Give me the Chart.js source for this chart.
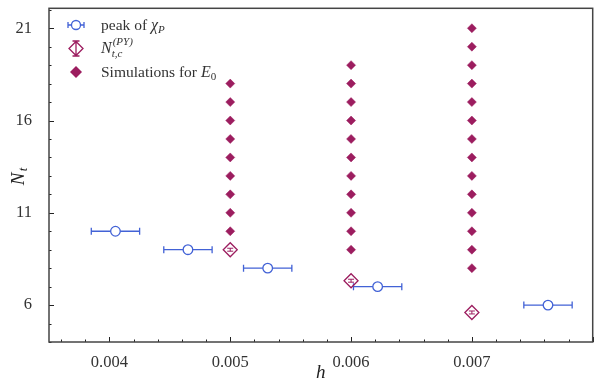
<!DOCTYPE html>
<html>
<head>
<meta charset="utf-8">
<script src="https://cdn.jsdelivr.net/npm/chart.js@4.4.1/dist/chart.umd.min.js"></script>
<style>
  body { margin: 0; background: #fff; }
  #wrap { width: 601px; height: 387px; }
</style>
</head>
<body>
<div id="wrap"><canvas id="myChart"></canvas></div>
<script>
// peak of chi_P (with horizontal error)
const peakH = [0.00405, 0.00465, 0.00531, 0.00622, 0.00763];
const peakNt = [10, 9, 8, 7, 6];
const peakHErr = [0.0002, 0.0002, 0.0002, 0.0002, 0.0002];

// N_t,c^(PY) (with vertical error)
const pyH = [0.005, 0.006, 0.007];
const pyNt = [9, 7.32, 5.6];
const pyNtErr = [0.08, 0.08, 0.08];

// Simulations for E_0
const simH = [0.005, 0.006, 0.007];
const simNt005 = [10, 11, 12, 13, 14, 15, 16, 17, 18];
const simNt006 = [9, 10, 11, 12, 13, 14, 15, 16, 17, 18, 19];
const simNt007 = [8, 9, 10, 11, 12, 13, 14, 15, 16, 17, 18, 19, 20, 21];

const xTicks = [0.004, 0.005, 0.006, 0.007];
const yTicks = [6, 11, 16, 21];

const blue = '#4262d6';
const mag = '#9c1d5f';
const serif = '"Liberation Serif", "DejaVu Serif", serif';

const simPts = [];
[simNt005, simNt006, simNt007].forEach(function(list, i) {
    list.forEach(function(n) { simPts.push({x: simH[i], y: n}); });
});

// error bars, inward ticks, frame, axis titles, legend
const extras = {
    id: 'extras',
    beforeDatasetsDraw(chart) {
        const ctx = chart.ctx, xs = chart.scales.x, ys = chart.scales.y;
        ctx.save();
        ctx.lineWidth = 1.3;
        ctx.strokeStyle = blue;
        peakH.forEach(function(h, i) {
            const y = ys.getPixelForValue(peakNt[i]);
            const x0 = xs.getPixelForValue(h - peakHErr[i]);
            const x1 = xs.getPixelForValue(h + peakHErr[i]);
            ctx.beginPath();
            ctx.moveTo(x0, y); ctx.lineTo(x1, y);
            ctx.moveTo(x0, y - 3.5); ctx.lineTo(x0, y + 3.5);
            ctx.moveTo(x1, y - 3.5); ctx.lineTo(x1, y + 3.5);
            ctx.stroke();
        });
        ctx.strokeStyle = mag;
        ctx.lineWidth = 1;
        pyH.forEach(function(h, i) {
            const x = xs.getPixelForValue(h);
            const y0 = ys.getPixelForValue(pyNt[i] - pyNtErr[i]);
            const y1 = ys.getPixelForValue(pyNt[i] + pyNtErr[i]);
            ctx.beginPath();
            ctx.moveTo(x, y0); ctx.lineTo(x, y1);
            ctx.moveTo(x - 3, y0); ctx.lineTo(x + 3, y0);
            ctx.moveTo(x - 3, y1); ctx.lineTo(x + 3, y1);
            ctx.stroke();
        });
        ctx.restore();
    },
    afterDraw(chart) {
        const ctx = chart.ctx, a = chart.chartArea, xs = chart.scales.x, ys = chart.scales.y;
        ctx.save();
        // ticks (inward)
        ctx.strokeStyle = '#222';
        ctx.lineWidth = 1;
        ctx.beginPath();
        for (let k = 18; k <= 40; k++) {
            const v = k * 0.0002;
            if (v < xs.min || v > xs.max) continue;
            const x = Math.round(xs.getPixelForValue(v)) + 0.5;
            const len = (k % 5 === 0) ? 5 : 2.5;
            ctx.moveTo(x, a.bottom); ctx.lineTo(x, a.bottom - len);
        }
        for (let v = 4; v <= 22; v++) {
            const y = Math.round(ys.getPixelForValue(v)) + 0.5;
            const len = ((v - 1) % 5 === 0) ? 5 : 2.5;
            ctx.moveTo(a.left, y); ctx.lineTo(a.left + len, y);
        }
        ctx.stroke();
        // frame
        ctx.strokeStyle = '#444';
        ctx.lineWidth = 1.5;
        ctx.strokeRect(a.left, a.top, a.right - a.left, a.bottom - a.top);

        // axis titles
        ctx.fillStyle = '#222';
        ctx.textBaseline = 'alphabetic';
        ctx.font = 'italic 19px ' + serif;
        ctx.textAlign = 'center';
        ctx.fillText('h', (a.left + a.right) / 2, 378);
        ctx.save();
        ctx.translate(24, (a.top + a.bottom) / 2);
        ctx.rotate(-Math.PI / 2);
        ctx.textAlign = 'left';
        ctx.fillText('N', -10, 0);
        ctx.font = 'italic 13px ' + serif;
        ctx.fillText('t', 4, 3);
        ctx.restore();

        // legend
        const mx = 76, tx = 101;
        ctx.lineWidth = 1.3;
        // row 1: circle with h-bar
        ctx.strokeStyle = blue;
        ctx.beginPath();
        ctx.moveTo(68, 25); ctx.lineTo(84, 25);
        ctx.moveTo(68, 22); ctx.lineTo(68, 28);
        ctx.moveTo(84, 22); ctx.lineTo(84, 28);
        ctx.stroke();
        ctx.fillStyle = '#fff';
        ctx.beginPath(); ctx.arc(mx, 25, 4.5, 0, Math.PI * 2); ctx.fill(); ctx.stroke();
        // row 2: hollow diamond with v-bar
        ctx.strokeStyle = mag;
        ctx.beginPath();
        ctx.moveTo(mx, 41); ctx.lineTo(mx, 56);
        ctx.moveTo(mx - 3.5, 41); ctx.lineTo(mx + 3.5, 41);
        ctx.moveTo(mx - 3.5, 56); ctx.lineTo(mx + 3.5, 56);
        ctx.moveTo(mx, 41.5); ctx.lineTo(mx + 7, 48.5); ctx.lineTo(mx, 55.5); ctx.lineTo(mx - 7, 48.5); ctx.closePath();
        ctx.stroke();
        // row 3: filled diamond
        ctx.fillStyle = mag;
        ctx.beginPath();
        ctx.moveTo(mx, 66); ctx.lineTo(mx + 6, 72); ctx.lineTo(mx, 78); ctx.lineTo(mx - 6, 72); ctx.closePath();
        ctx.fill();

        ctx.fillStyle = '#333';
        ctx.textAlign = 'left';
        ctx.font = '15.5px ' + serif;
        ctx.fillText('peak of ', tx, 30);
        let w = ctx.measureText('peak of ').width;
        ctx.font = 'italic 16px ' + serif;
        ctx.fillText('\u03C7', tx + w, 30);
        w += ctx.measureText('\u03C7').width;
        ctx.font = 'italic 11px ' + serif;
        ctx.fillText('P', tx + w, 33);

        ctx.font = 'italic 16px ' + serif;
        ctx.fillText('N', tx, 53);
        const wn = ctx.measureText('N').width;
        ctx.font = 'italic 11px ' + serif;
        ctx.fillText('(PY)', tx + wn + 1, 45);
        ctx.fillText('t,c', tx + wn, 57);

        ctx.font = '15.5px ' + serif;
        ctx.fillText('Simulations for ', tx, 77);
        w = ctx.measureText('Simulations for ').width;
        ctx.font = 'italic 16px ' + serif;
        ctx.fillText('E', tx + w, 77);
        w += ctx.measureText('E').width;
        ctx.font = '11px ' + serif;
        ctx.fillText('0', tx + w, 80);
        ctx.restore();
    }
};

new Chart(document.getElementById('myChart').getContext('2d'), {
    type: 'scatter',
    data: {
        datasets: [{
            label: 'peak of chi_P',
            data: peakH.map(function(h, i) { return {x: h, y: peakNt[i]}; }),
            pointStyle: 'circle',
            pointRadius: 4.8,
            backgroundColor: '#fff',
            borderColor: blue,
            borderWidth: 1.3
        }, {
            label: 'N_t,c^(PY)',
            data: pyH.map(function(h, i) { return {x: h, y: pyNt[i]}; }),
            pointStyle: 'rectRot',
            pointRadius: 7,
            backgroundColor: 'rgba(0,0,0,0)',
            borderColor: mag,
            borderWidth: 1.3
        }, {
            label: 'Simulations for E_0',
            data: simPts,
            pointStyle: 'rectRot',
            pointRadius: 4.5,
            backgroundColor: mag,
            borderColor: mag,
            borderWidth: 0.5
        }]
    },
    options: {
        responsive: true,
        maintainAspectRatio: false,
        animation: false,
        layout: { padding: { left: 0, right: 7, top: 7, bottom: 0 } },
        plugins: { legend: { display: false }, tooltip: { enabled: false } },
        scales: {
            x: {
                type: 'linear',
                min: 0.0035,
                max: 0.008,
                grid: { display: false },
                border: { display: false },
                afterBuildTicks: function(scale) { scale.ticks = xTicks.map(function(v) { return {value: v}; }); },
                afterFit: function(scale) { scale.height = 45; scale.paddingLeft = 0; scale.paddingRight = 0; },
                ticks: {
                    padding: 3,
                    color: '#333',
                    font: { family: serif, size: 16.5 },
                    maxRotation: 0,
                    callback: function(v) { return v.toFixed(3); }
                }
            },
            y: {
                type: 'linear',
                min: 4,
                max: 22.08,
                grid: { display: false },
                border: { display: false },
                afterBuildTicks: function(scale) { scale.ticks = yTicks.map(function(v) { return {value: v}; }); },
                afterFit: function(scale) { scale.width = 49; scale.paddingTop = 0; scale.paddingBottom = 0; },
                ticks: {
                    padding: 9,
                    color: '#333',
                    font: { family: serif, size: 16.5 },
                    callback: function(v) { return String(v); }
                }
            }
        }
    },
    plugins: [extras]
});
</script>
</body>
</html>
